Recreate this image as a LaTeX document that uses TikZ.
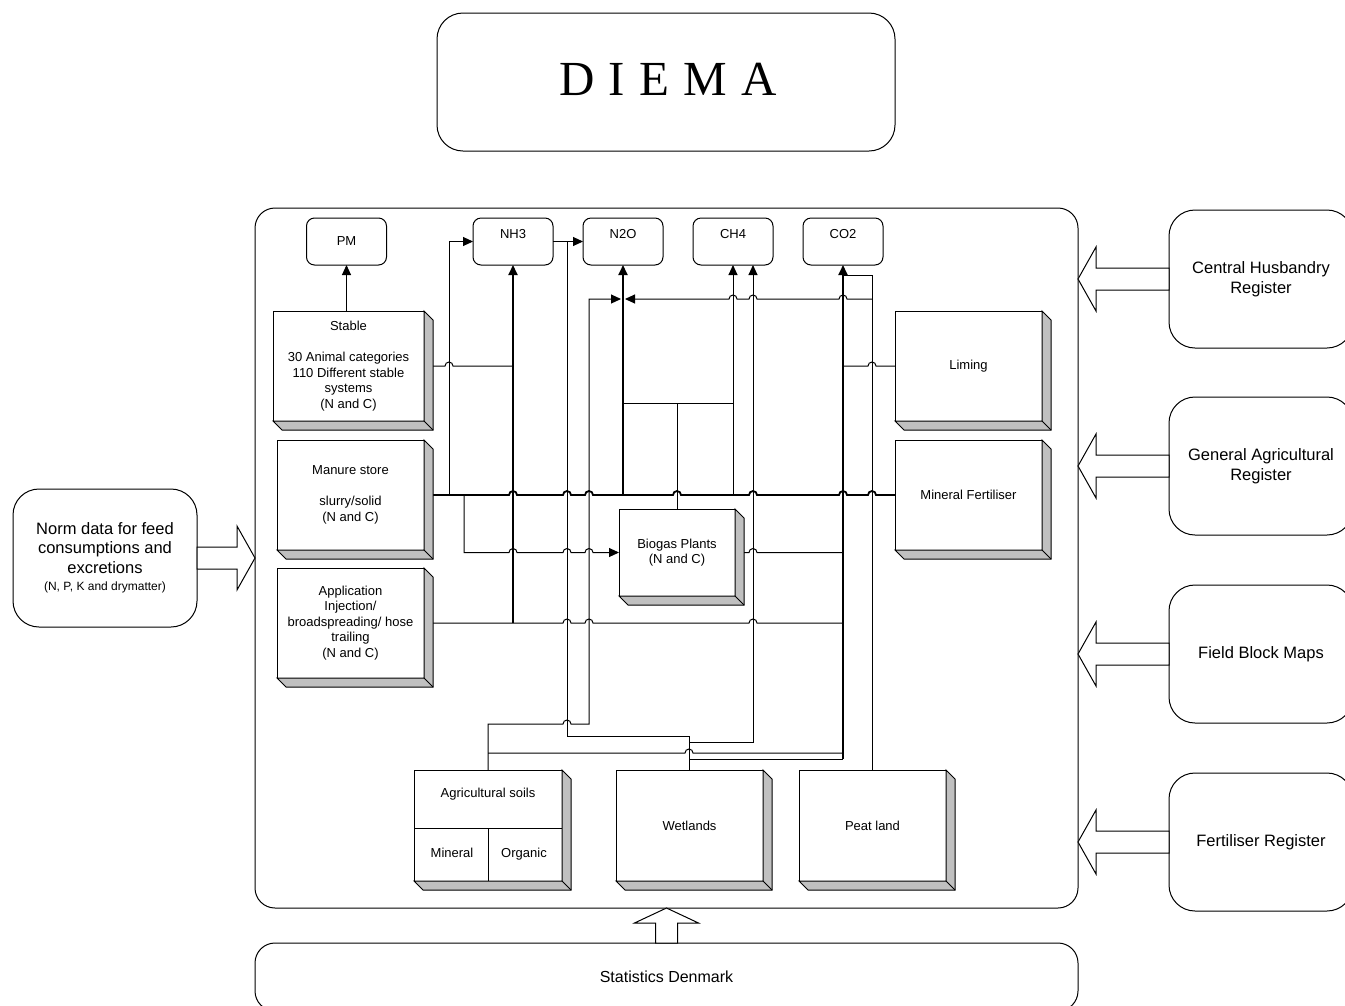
\documentclass[tikz,border=0pt]{standalone}
\usepackage{fontspec}
\setmainfont{Liberation Sans}
\newfontfamily\titlefont[LetterSpace=29]{Liberation Serif}
\usepackage{tikz}
\usetikzlibrary{arrows.meta,positioning,backgrounds,calc}
\definecolor{slabgray}{HTML}{C0C0C0}
\tikzset{
  framebox/.style={draw,rounded corners=20pt,line width=1pt,outer sep=0pt},
  titlebox/.style={draw,rounded corners=26pt,minimum width=458pt,minimum height=138pt,
    line width=1pt,text height=32pt,text depth=6pt,font=\titlefont\fontsize{49}{49}\selectfont},
  regbox/.style={draw,fill=white,rounded corners=26pt,minimum width=184pt,minimum height=138pt,
    line width=1pt,outer sep=0pt,align=center,font=\fontsize{16.5}{19.5}\selectfont},
  gas/.style={draw,rounded corners=8pt,minimum width=80pt,minimum height=47pt,
    line width=1pt,outer sep=0pt,font=\fontsize{13}{15.5}\selectfont},
  gastop/.style={gas,text height=9pt,text depth=15pt},
  slab/.style={draw,fill=white,minimum width=147pt,minimum height=110pt,line width=1pt,
    outer sep=0pt,align=center,font=\fontsize{13}{15.5}\selectfont},
  slabside/.style={draw,fill=slabgray,line width=1pt},
  boxtext/.style={font=\fontsize{13}{15.5}\selectfont},
  wire/.style={draw,line width=1pt},
  trunk/.style={draw,line width=1.8pt},
  flow/.style={-{Triangle[length=10pt,width=9pt]}},
  bigarrow/.style={draw,fill=white,line width=1pt},
  hopsR/.style={to path={let \p1=(\tikztostart) in
    \foreach \h in {#1}{ -- (\h pt-4pt,\y1) arc[start angle=180,end angle=0,radius=4pt] }
    -- (\tikztotarget)}},
  hopsL/.style={to path={let \p1=(\tikztostart) in
    \foreach \h in {#1}{ -- (\h pt+4pt,\y1) arc[start angle=0,end angle=180,radius=4pt] }
    -- (\tikztotarget)}},
}
\begin{document}
\begin{tikzpicture}[x=1pt,y=-1pt]
  \useasboundingbox (0,0) rectangle (1345,1005);
  \node[titlebox] (diema) at (666,82) {\hspace*{4pt}DIEMA};
  \node[framebox,minimum width=823pt,minimum height=700pt] (frame) at (666.5,558) {};
  \node[regbox,rounded corners=20pt,minimum width=823pt,minimum height=68pt,
    font=\fontsize{16}{19}\selectfont,below=35pt of frame] (stats) {Statistics Denmark};
  \node[regbox,left=58pt of frame] (norm) {Norm data for feed\\consumptions and\\excretions\\[-2pt]
    {\fontsize{12}{14}\selectfont(N, P, K and drymatter)}};
  \node[regbox,anchor=north west] (husb) at (1169,210) {Central Husbandry\\Register};
  \node[regbox,below=49pt of husb] (genreg) {General Agricultural\\Register};
  \node[regbox,below=50pt of genreg] (fieldmap) {Field Block Maps};
  \node[regbox,below=50pt of fieldmap] (fertreg) {Fertiliser Register};

  \node[gas] (pm) at (346.5,241.5) {PM};
  \node[gastop] (nh3) at (513,241.5) {NH3};
  \node[gastop,right=30pt of nh3] (n2o) {N2O};
  \node[gastop,right=30pt of n2o] (ch4) {CH4};
  \node[gastop,right=30pt of ch4] (co2) {CO2};

  \node[slab,anchor=north west,minimum width=151pt] (stable) at (273,311)
    {Stable\\[15.5pt]30 Animal categories\\110 Different stable\\systems\\(N and C)};
  \node[slab,below=19pt of stable.south east,anchor=north east] (manure)
    {Manure store\\[15.5pt]slurry/solid\\(N and C)};
  \node[slab,below=18pt of manure.south east,anchor=north east] (appl)
    {Application\\Injection/\\broadspreading/ hose\\trailing\\(N and C)};
  \node[slab,anchor=north west,minimum width=116pt,minimum height=87pt] (biogas) at (619,509)
    {Biogas Plants\\(N and C)};
  \node[slab,anchor=north west] (liming) at (895,311) {Liming};
  \node[slab,below=19pt of liming] (minfert) {Mineral Fertiliser};
  \node[slab,anchor=north west,minimum width=148pt,minimum height=111pt] (agsoil) at (414,770) {};
  \node[slab,right=54pt of agsoil,minimum height=111pt] (wetland) {Wetlands};
  \node[slab,right=36pt of wetland,minimum height=111pt] (peat) {Peat land};
  \node[boxtext] (agtitle) at ([yshift=-24pt]agsoil.north) {Agricultural soils};
  \node[boxtext,anchor=base] (agmin) at ([xshift=-36pt,yshift=-32pt]agsoil.center) {Mineral};
  \node[boxtext,anchor=base] (agorg) at ([xshift=36pt,yshift=-32pt]agsoil.center) {Organic};
  \draw[wire] ([yshift=-2.5pt]agsoil.west) -- ([yshift=-2.5pt]agsoil.east);
  \draw[wire] ([yshift=-2.5pt]agsoil.center) -- (agsoil.south);

  \foreach \b in {stable,manure,appl,biogas,liming,minfert,agsoil,wetland,peat}{
    \draw[slabside] (\b.north east) -- ++(9,9) |- ([shift={(9,9)}]\b.south west)
      -- (\b.south west) -- (\b.south east) -- cycle;
    \draw[slabside] (\b.south east) -- ++(9,9);
  }

  \draw[bigarrow] ([yshift=11pt]norm.east) -- ++(40,0) -- ++(0,-21) -- ++(18,32)
    -- ++(-18,32) -- ++(0,-21) -- ++(-40,0) -- cycle;
  \foreach \r in {husb,genreg,fieldmap,fertreg}
    \draw[bigarrow] ([yshift=11pt]\r.west) -- ++(-73,0) -- ++(0,-21) -- ++(-18,32)
      -- ++(18,32) -- ++(0,-21) -- ++(73,0) -- cycle;
  \draw[bigarrow] ([xshift=-11pt]stats.north) -- ++(0,-20) -- ++(-21,0) -- ++(32,-15)
    -- ++(32,15) -- ++(-21,0) -- ++(0,20) -- cycle;

  \coordinate (colA) at (449,0);
  \coordinate (colB) at (464,0);
  \coordinate (colC) at (567,0);
  \coordinate (colD) at (589,0);
  \coordinate (colE) at (753,0);
  \coordinate (rowC) at (0,275);
  \coordinate (rowX) at (0,299);
  \coordinate (rowG) at (0,403);
  \coordinate (rowK1) at (0,724);
  \coordinate (rowK2) at (0,736);
  \coordinate (rowK3) at (0,742);
  \coordinate (rowK4) at (0,753);
  \coordinate (rowK5) at (0,759);

  \begin{pgfonlayer}{background}
  \draw[wire,flow] (pm |- stable.north) -- (pm.south);
  \draw[wire] (stable.east) to[hopsR={449}] (nh3 |- stable.east);
  \draw[trunk,flow] (nh3 |- appl.east) -- (nh3.south);
  \draw[wire,flow] (colA |- manure.east) |- (nh3.west);
  \draw[wire] (nh3.east) -- (colC |- nh3.east);
  \draw[trunk] (manure.east) to[hopsR={513,567,589,677,753,843,872}] (minfert.west);
  \draw[wire,flow] (colB |- manure.east) -- (colB |- biogas.west)
    to[hopsR={513,567,589}] (biogas.west);
  \draw[wire] (appl.east) to[hopsR={567,589,753}] (co2 |- appl.east);
  \draw[wire] (biogas.north) -- (biogas |- rowG);
  \draw[wire] (n2o |- rowG) -- (ch4 |- rowG);
  \draw[trunk,flow] (n2o |- manure.east) -- (n2o.south);
  \draw[wire,flow] (ch4 |- manure.east) -- (ch4.south);
  \draw[wire] (biogas.east) to[hopsR={753}] (co2 |- biogas.east);
  \draw[trunk,flow] (co2 |- rowK5) -- (co2.south);
  \draw[wire] (liming.west) to[hopsL={872}] (co2 |- liming.west);
  \draw[wire] (peat.north) |- (co2 |- rowC);
  \draw[wire,flow] (peat |- rowX) to[hopsL={843,753,733}] ([xshift=2pt]n2o |- rowX);
  \draw[wire,flow] (agsoil.north) -- (agsoil |- rowK1) to[hopsR={567}] (colD |- rowK1)
    |- ([xshift=-2pt]n2o |- rowX);
  \draw[wire] (agsoil |- rowK4) to[hopsR={689}] (co2 |- rowK4);
  \draw[wire,flow] (wetland.north) |- (colC |- rowK2) |- (n2o.west);
  \draw[wire,flow] (wetland |- rowK3) -| (colE |- ch4.south);
  \draw[wire] (wetland |- rowK5) -- (co2 |- rowK5);
  \end{pgfonlayer}
\end{tikzpicture}
\end{document}
